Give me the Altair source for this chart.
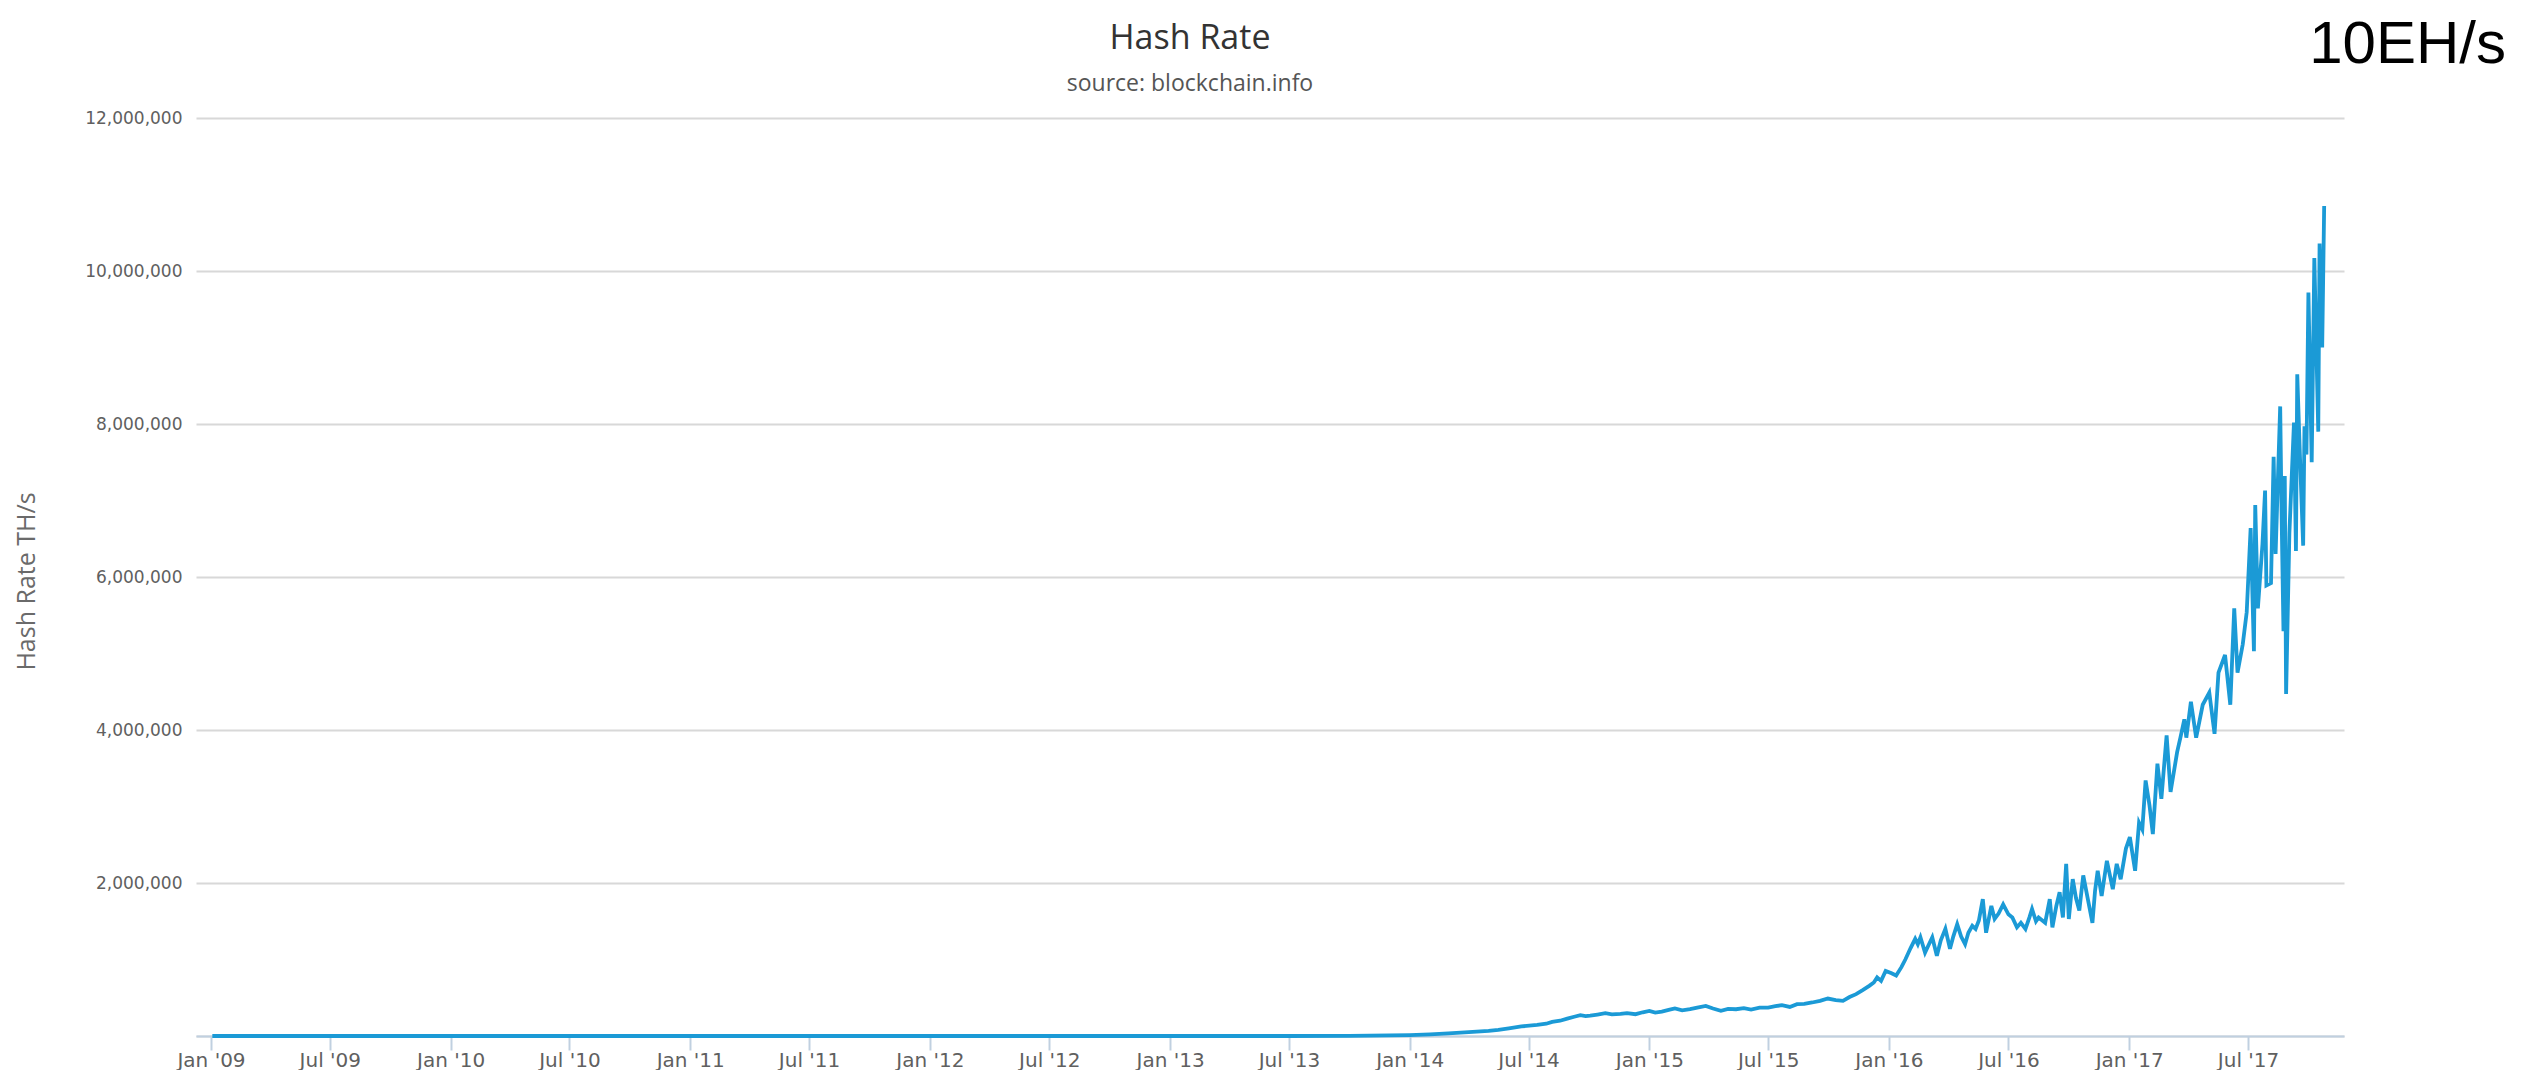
import altair as alt
import pandas as pd

# ---- data (TH/s) ----
dates = [
    "2009-01-03", "2009-07-01", "2010-01-01", "2010-07-01", "2011-01-01", "2011-07-01",
    "2012-01-01", "2012-07-01", "2013-01-01", "2013-04-01", "2013-07-01", "2013-10-01",
    "2013-12-01", "2014-01-01", "2014-02-01", "2014-03-01", "2014-04-01", "2014-05-01",
    "2014-05-16", "2014-06-01", "2014-06-20", "2014-07-14", "2014-07-28", "2014-08-06",
    "2014-08-18", "2014-08-29", "2014-09-10", "2014-09-18", "2014-09-26", "2014-10-03",
    "2014-10-14", "2014-10-26", "2014-11-05", "2014-11-18", "2014-11-28", "2014-12-11",
    "2014-12-22", "2015-01-01", "2015-01-10", "2015-01-20", "2015-02-01", "2015-02-09",
    "2015-02-20", "2015-03-04", "2015-03-15", "2015-03-28", "2015-04-08", "2015-04-20",
    "2015-05-01", "2015-05-13", "2015-05-25", "2015-06-05", "2015-06-18", "2015-07-01",
    "2015-07-12", "2015-07-22", "2015-08-03", "2015-08-14", "2015-08-25", "2015-09-06",
    "2015-09-18", "2015-09-30", "2015-10-12", "2015-10-23", "2015-11-02", "2015-11-12",
    "2015-11-22", "2015-12-02", "2015-12-09", "2015-12-14", "2015-12-20", "2015-12-27",
    "2016-01-05", "2016-01-12", "2016-01-20", "2016-01-26", "2016-02-03", "2016-02-10",
    "2016-02-14", "2016-02-18", "2016-02-25", "2016-03-02", "2016-03-07", "2016-03-14",
    "2016-03-20", "2016-03-27", "2016-04-03", "2016-04-08", "2016-04-14", "2016-04-20",
    "2016-04-26", "2016-05-01", "2016-05-07", "2016-05-12", "2016-05-17", "2016-05-23",
    "2016-05-28", "2016-06-05", "2016-06-10", "2016-06-16", "2016-06-23", "2016-07-01",
    "2016-07-07", "2016-07-14", "2016-07-20", "2016-07-27", "2016-08-02", "2016-08-06",
    "2016-08-12", "2016-08-16", "2016-08-26", "2016-09-02", "2016-09-06", "2016-09-12",
    "2016-09-17", "2016-09-22", "2016-09-27", "2016-10-01", "2016-10-07", "2016-10-12",
    "2016-10-17", "2016-10-23", "2016-10-30", "2016-11-06", "2016-11-10", "2016-11-14",
    "2016-11-20", "2016-11-28", "2016-12-07", "2016-12-13", "2016-12-19", "2016-12-27",
    "2017-01-02", "2017-01-10", "2017-01-16", "2017-01-21", "2017-01-26", "2017-02-01",
    "2017-02-06", "2017-02-13", "2017-02-19", "2017-02-27", "2017-03-05", "2017-03-15",
    "2017-03-20", "2017-03-26", "2017-03-29", "2017-04-05", "2017-04-13", "2017-04-23",
    "2017-05-03", "2017-05-11", "2017-05-17", "2017-05-27", "2017-06-04", "2017-06-10",
    "2017-06-15", "2017-06-23", "2017-06-29", "2017-07-05", "2017-07-10", "2017-07-12",
    "2017-07-16", "2017-07-23", "2017-07-27", "2017-07-29", "2017-08-05", "2017-08-09",
    "2017-08-12", "2017-08-19", "2017-08-21", "2017-08-24", "2017-08-26", "2017-08-28",
    "2017-09-02", "2017-09-09", "2017-09-12", "2017-09-14", "2017-09-18", "2017-09-23",
    "2017-09-25", "2017-09-28", "2017-10-01", "2017-10-06", "2017-10-10", "2017-10-16",
    "2017-10-18", "2017-10-22", "2017-10-25",
]

hash_rate = [
    0, 0, 0, 0, 0, 0,
    0, 0, 25, 60, 300, 2500,
    7000, 12000, 22000, 35000, 50000, 68000,
    80000, 100000, 125000, 145000, 160000, 185000,
    200000, 228000, 255000, 272000, 260000, 265000,
    280000, 298000, 282000, 290000, 300000, 285000,
    310000, 328000, 305000, 320000, 345000, 360000,
    335000, 350000, 372000, 394000, 360000, 330000,
    355000, 350000, 365000, 345000, 370000, 372000,
    390000, 403000, 380000, 416000, 420000, 438000,
    460000, 490000, 470000, 460000, 510000, 547000,
    600000, 656000, 700000, 766000, 720000, 850000,
    820000, 790000, 900000, 1000000, 1150000, 1270000,
    1200000, 1290000, 1090000, 1200000, 1290000, 1050000,
    1250000, 1400000, 1140000, 1300000, 1460000, 1300000,
    1200000, 1350000, 1440000, 1400000, 1510000, 1790000,
    1350000, 1700000, 1530000, 1600000, 1720000, 1590000,
    1550000, 1420000, 1480000, 1400000, 1550000, 1660000,
    1500000, 1550000, 1480000, 1790000, 1420000, 1700000,
    1880000, 1550000, 2250000, 1530000, 2050000, 1800000,
    1640000, 2100000, 1790000, 1480000, 1900000, 2160000,
    1830000, 2290000, 1920000, 2250000, 2050000, 2450000,
    2600000, 2160000, 2790000, 2700000, 3340000, 3010000,
    2640000, 3560000, 3100000, 3930000, 3190000, 3710000,
    3900000, 4140000, 3900000, 4370000, 3900000, 4330000,
    4490000, 3950000, 4750000, 4980000, 4330000, 5590000,
    4750000, 5120000, 5540000, 6640000, 5030000, 6940000,
    5590000, 6430000, 7130000, 5890000, 5920000, 7570000,
    6300000, 8230000, 6900000, 5290000, 7320000, 4470000,
    6570000, 8020000, 6340000, 8650000, 7600000, 6410000,
    7970000, 7600000, 9720000, 7500000, 10170000, 7900000,
    10360000, 9000000, 10850000,
]

x_tick_months = [(y, m) for y in range(2009, 2018) for m in (1, 7)]
y_tick_values = [0, 2000000, 4000000, 6000000, 8000000, 10000000, 12000000]

title_text = ["Hash Rate"]
subtitle_text = ["source: blockchain.info"]
y_title = "Hash Rate TH/s"
note_text = ["10EH/s"]

df = pd.DataFrame({"date": dates, "hash_rate": hash_rate})

W, H = 2148, 918

x_ticks = [alt.DateTime(year=y, month=m, date=1, utc=True) for y, m in x_tick_months]
x_domain = [
    alt.DateTime(year=2008, month=12, date=9, hours=3, utc=True),
    alt.DateTime(year=2017, month=11, date=24, hours=5, utc=True),
]

line = alt.Chart(df).mark_line(color="#1b9ad6", strokeWidth=3.8, clip=False).encode(
    x=alt.X(
        "date:T",
        scale=alt.Scale(type="utc", domain=x_domain),
        axis=alt.Axis(
            values=x_ticks, format="%b '%y", title=None, grid=False,
            domainColor="#C0D0E0", domainWidth=2,
            tickColor="#C0D0E0", tickWidth=2, tickSize=14,
            labelFont="DejaVu Sans", labelFontSize=20, labelColor="#606060",
            labelPadding=0, labelFlush=False, labelOverlap=False,
        ),
    ),
    y=alt.Y(
        "hash_rate:Q",
        scale=alt.Scale(domain=[0, 12000000], nice=False),
        axis=alt.Axis(
            values=y_tick_values,
            labelExpr="datum.value == 0 ? '' : format(datum.value, ',')",
            title=y_title, domain=False, ticks=False,
            gridColor="#D8D8D8", gridWidth=2,
            labelFont="DejaVu Sans", labelFontSize=17, labelColor="#606060",
            labelPadding=14,
            titleFont="Open Sans", titleFontSize=25, titleColor="#6a6a6a",
            titleFontWeight="normal", titleAngle=270, titleX=-170, titleY=463,
            titleAlign="center", titleBaseline="middle",
        ),
    ),
)

title_layer = alt.Chart(pd.DataFrame({"label": title_text})).mark_text(
    font="Open Sans", fontSize=34, align="center", baseline="alphabetic", color="#333333"
).encode(x=alt.value(994), y=alt.value(-69), text="label:N")

subtitle_layer = alt.Chart(pd.DataFrame({"label": subtitle_text})).mark_text(
    font="Open Sans", fontSize=23, align="center", baseline="alphabetic", color="#555555"
).encode(x=alt.value(994), y=alt.value(-27), text="label:N")

note = alt.Chart(pd.DataFrame({"label": note_text})).mark_text(
    font="Liberation Sans", fontSize=60, align="right", baseline="alphabetic", color="#000000"
).encode(x=alt.value(2310), y=alt.value(-55.5), text="label:N")

chart = alt.layer(line, title_layer, subtitle_layer, note).properties(
    width=W,
    height=H,
    background="#ffffff",
    padding={"left": 188, "top": 110, "right": 171, "bottom": 34},
    autosize=alt.AutoSizeParams(type="none"),
).configure_view(strokeWidth=0, stroke="transparent")

chart.save("out.html", embed_options={"renderer": "svg", "actions": False})
